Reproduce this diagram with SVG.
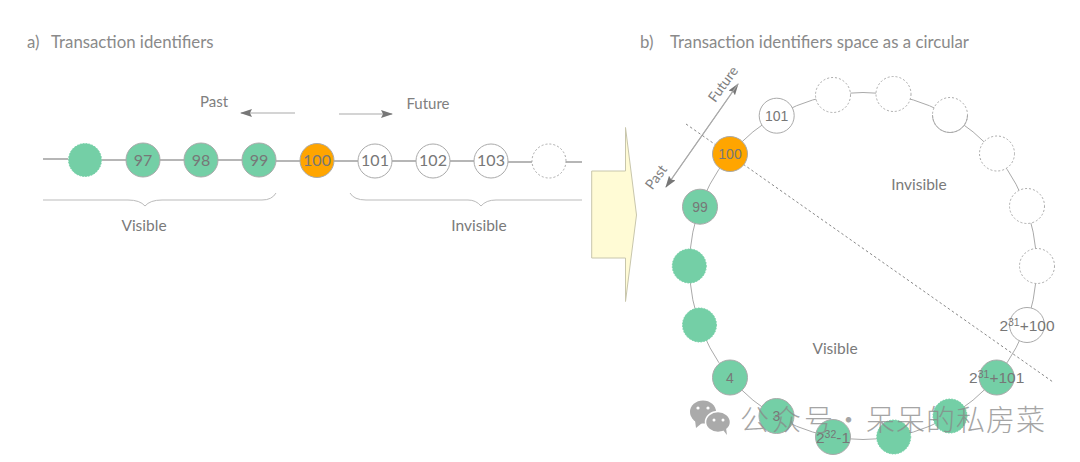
<svg xmlns="http://www.w3.org/2000/svg" width="1080" height="462" viewBox="0 0 1080 462">
<style>
text{font-family:"Lato","Liberation Sans",sans-serif;fill:#808080;font-size:15px;}
.ti{font-size:16.800px;fill:#8a8a8a;}
.t{text-anchor:middle;}
.v{font-size:15.500px;fill:#7a7a7a;}
.d{font-size:16px;fill:#777;}
.h{font-family:"Liberation Sans",sans-serif;font-size:14px;text-anchor:middle;fill:#777;}
.e{font-size:15.500px;}
.s{font-size:10.500px;}
.n{stroke:#aaa;stroke-width:1;}
.g{fill:#74cfa6;}
.o{fill:#ffa500;}
.w{fill:#fff;}
.gd{fill:#74cfa6;stroke:#74cfa6;stroke-width:1;stroke-dasharray:1.500 1.500;}
.wd{fill:#fff;stroke:#aaa;stroke-width:1;stroke-dasharray:2 2;}
.l{fill:none;stroke:#6e6e6e;stroke-width:1.100;}
.c{fill:none;stroke:#aaa;stroke-width:1;}
.b{fill:none;stroke:#bbb;stroke-width:1;}
.a{fill:none;stroke:#aaa;stroke-width:1.100;}
.wm{font-family:"Noto Sans CJK SC",sans-serif;font-size:29px;font-weight:300;fill:#888;opacity:.75;}
</style>
<defs>
<marker id="ah" markerWidth="12" markerHeight="8" refX="11" refY="4" orient="auto" markerUnits="userSpaceOnUse"><path d="M0 0L12 4L0 8L2 4Z" fill="#777"/></marker>
</defs>
<rect width="1080" height="462" fill="#fff"/>
<text class="ti" x="27" y="48">a)</text><text class="ti" x="51" y="48">Transaction identifiers</text>
<text class="ti" x="640" y="48">b)</text><text class="ti" x="670" y="48">Transaction identifiers space as a circular</text>
<g id="connectors">
<path class="l" d="M43 159H68M102 160H126M160 160H184M218 160H242M276 161H300M334 161H358M392 161H416M450 161H474M508 162H532M566 162H582"/>
<path class="a" d="M295 113H241" marker-end="url(#ah)"/>
<path class="a" d="M339 114H392" marker-end="url(#ah)"/>
<path class="a" d="M666 187L738 84" marker-end="url(#ah)"/>
<path class="a" d="M738 84L666 187" marker-end="url(#ah)"/>
<path class="b" d="M43 200H128Q140 200 145 206Q150 200 162 200H262Q272 200 276 193"/>
<path class="b" d="M350 193Q354 200 366 200H468Q476 200 481 206Q486 200 496 200H582"/>
<circle class="c" cx="863" cy="266" r="173.500"/>
<path d="M686 124L1053 382" fill="none" stroke="#888" stroke-width="1" stroke-dasharray="2.500 2.500"/>
</g>
<g id="arrow"><path d="M591.700 171H625.500V127.500L636.500 215L625.500 301.500V258H591.700Z" fill="#fffbd5" stroke="#c8c6ac" stroke-width="1"/></g>
<g id="a-dash-green"><circle class="gd" cx="85" cy="160" r="16.500"/></g>
<g id="a97"><circle class="n g" cx="143" cy="160" r="17"/><text class="t d" x="143" y="165.500">97</text></g>
<g id="a98"><circle class="n g" cx="201" cy="160" r="17"/><text class="t d" x="201" y="165.500">98</text></g>
<g id="a99"><circle class="n g" cx="259" cy="160" r="17"/><text class="t d" x="259" y="165.500">99</text></g>
<g id="a100"><circle class="n o" cx="317" cy="160.500" r="17"/><text class="t d" x="317" y="166">100</text></g>
<g id="a101"><circle class="n w" cx="375" cy="161" r="17"/><text class="t d" x="375" y="166">101</text></g>
<g id="a102"><circle class="n w" cx="433" cy="161" r="17"/><text class="t d" x="433" y="166">102</text></g>
<g id="a103"><circle class="n w" cx="491" cy="161" r="17"/><text class="t d" x="491" y="166">103</text></g>
<g id="a-dash-white"><circle class="wd" cx="549" cy="161" r="17"/></g>
<text class="t" x="214" y="107">Past</text>
<text class="t" x="428" y="109">Future</text>
<text class="t v" x="144" y="231">Visible</text>
<text class="t v" x="479" y="231">Invisible</text>
<text class="t" x="0" y="0" transform="translate(727 87) rotate(-54)" style="font-size:14px">Future</text>
<text class="t" x="0" y="0" transform="translate(660 180) rotate(-54)" style="font-size:14px">Past</text>
<text class="t v" x="919" y="190">Invisible</text>
<text class="t v" x="835" y="354">Visible</text>
<g id="c101"><circle class="n w" cx="776.700" cy="115.700" r="17.500"/><text class="h" x="776.700" y="120.500">101</text></g>
<g id="c100"><circle class="n o" cx="730" cy="154" r="17.500"/><text class="h" x="730" y="159">100</text></g>
<g id="c99"><circle class="n g" cx="700" cy="206.700" r="17.500"/><text class="h" x="700" y="212">99</text></g>
<g id="c-g1"><circle class="gd" cx="689.300" cy="266" r="17"/></g>
<g id="c-g2"><circle class="gd" cx="699.500" cy="325" r="17"/></g>
<g id="c4"><circle class="n g" cx="730" cy="377.500" r="17.500"/><text class="h" x="730" y="383">4</text></g>
<g id="c3"><circle class="n g" cx="776.500" cy="416" r="17.500"/><text class="h" x="776.500" y="421">3</text></g>
<g id="c232"><circle class="n g" cx="833" cy="437" r="17.500"/><text class="h e" x="833" y="443">2<tspan class="s" dy="-5">32</tspan><tspan dy="5">-1</tspan></text></g>
<g id="c-g3"><circle class="gd" cx="893.700" cy="437" r="17"/></g>
<g id="c-g4"><circle class="gd" cx="950" cy="416" r="17"/></g>
<g id="c231-101"><circle class="n g" cx="996.700" cy="377.500" r="17.500"/><text class="h e" x="996.700" y="383">2<tspan class="s" dy="-5">31</tspan><tspan dy="5">+101</tspan></text></g>
<g id="c231-100"><circle class="n w" cx="1027" cy="325" r="17.500"/><text class="h e" x="1027" y="331">2<tspan class="s" dy="-5">31</tspan><tspan dy="5">+100</tspan></text></g>
<g id="c-w1"><circle class="wd" cx="1037" cy="266" r="17.500"/></g>
<g id="c-w2"><circle class="wd" cx="1027" cy="206" r="17.500"/></g>
<g id="c-w3"><circle class="wd" cx="997" cy="153.500" r="17.500"/></g>
<g id="c-w4"><circle class="wd" cx="950" cy="115" r="17.500"/><path class="c" d="M967.500 115A17.500 17.500 0 0 1 932.500 115"/></g>
<g id="c-w5"><circle class="wd" cx="893.500" cy="94" r="17.500"/></g>
<g id="c-w6"><circle class="wd" cx="833" cy="95" r="17.500"/></g>
<g id="watermark">
<g fill="#aaa"><ellipse cx="703" cy="412" rx="13" ry="11.500"/><path d="M695 420l1 8l6-5z"/><ellipse cx="718" cy="422" rx="12.500" ry="10.500" stroke="#fff" stroke-width="1.500"/><path d="M723 430l4 5l-1-7z"/></g>
<g fill="#fff"><circle cx="698" cy="408" r="1.600"/><circle cx="708" cy="408" r="1.600"/><circle cx="714" cy="420" r="1.500"/><circle cx="723" cy="420" r="1.500"/></g>
<text class="wm" x="740" y="431" style="letter-spacing:3px">公众号</text>
<text class="wm" x="834" y="431">·</text>
<text class="wm" x="866" y="431" style="letter-spacing:1px">呆呆的私房菜</text>
</g>
</svg>
